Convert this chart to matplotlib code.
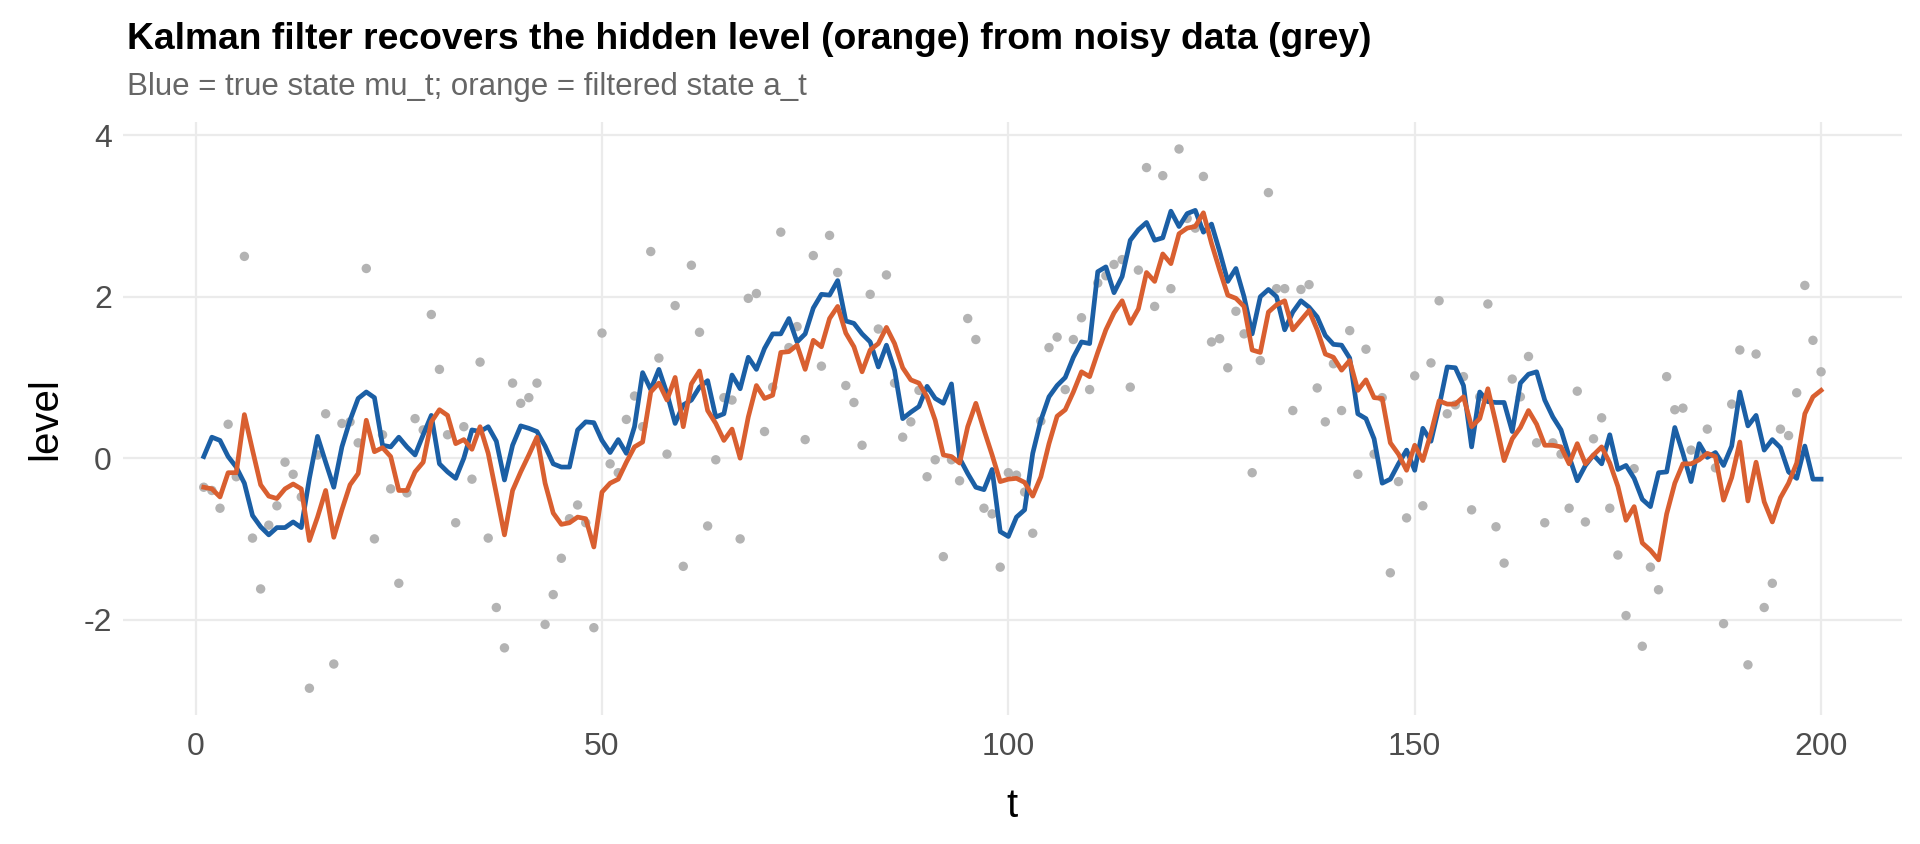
import matplotlib
matplotlib.use("Agg")
import matplotlib.pyplot as plt
import numpy as np

plt.rcParams['font.family'] = ['Liberation Sans', 'DejaVu Sans']
plt.rcParams['axes.unicode_minus'] = False

# time index
t = np.arange(1, 201)

# noisy observations y_t (grey points)
obs = [
    -0.36, -0.40, -0.62, 0.42, -0.23, 2.50, -0.99, -1.62, -0.83, -0.59,
    -0.05, -0.20, -0.48, -2.85, 0.04, 0.55, -2.55, 0.43, 0.45, 0.19,
    2.35, -1.00, 0.29, -0.38, -1.55, -0.43, 0.49, 0.35, 1.78, 1.10,
    0.29, -0.80, 0.39, -0.26, 1.19, -0.99, -1.85, -2.35, 0.93, 0.68,
    0.75, 0.93, -2.06, -1.69, -1.24, -0.75, -0.58, -0.80, -2.10, 1.55,
    -0.07, -0.18, 0.48, 0.77, 0.39, 2.56, 1.24, 0.05, 1.89, -1.34,
    2.39, 1.56, -0.84, -0.02, 0.75, 0.72, -1.00, 1.98, 2.04, 0.33,
    0.88, 2.80, 1.37, 1.63, 0.23, 2.51, 1.14, 2.76, 2.30, 0.90,
    0.69, 0.16, 2.03, 1.60, 2.27, 0.93, 0.26, 0.45, 0.84, -0.23,
    -0.02, -1.22, -0.02, -0.28, 1.73, 1.47, -0.62, -0.69, -1.35, -0.18,
    -0.21, -0.42, -0.93, 0.46, 1.37, 1.50, 0.85, 1.47, 1.74, 0.85,
    2.17, 2.26, 2.40, 2.46, 0.88, 2.33, 3.60, 1.88, 3.50, 2.10,
    3.83, 2.97, 2.85, 3.49, 1.44, 1.48, 1.12, 1.82, 1.54, -0.18,
    1.21, 3.29, 2.10, 2.10, 0.59, 2.09, 2.15, 0.87, 0.45, 1.17,
    0.59, 1.58, -0.20, 1.35, 0.05, 0.75, -1.42, -0.29, -0.74, 1.02,
    -0.59, 1.18, 1.95, 0.55, 0.66, 1.01, -0.64, 0.76, 1.91, -0.85,
    -1.30, 0.98, 0.76, 1.26, 0.19, -0.80, 0.19, 0.05, -0.62, 0.83,
    -0.79, 0.24, 0.50, -0.62, -1.20, -1.95, -0.13, -2.33, -1.35, -1.63,
    1.01, 0.60, 0.62, 0.10, 0.05, 0.36, -0.12, -2.05, 0.67, 1.34,
    -2.56, 1.29, -1.85, -1.55, 0.36, 0.28, 0.81, 2.14, 1.46, 1.07,
]

# true state mu_t (blue)
mu = [
    0.02, 0.26, 0.22, 0.02, -0.11, -0.31, -0.71, -0.85, -0.95, -0.86,
    -0.86, -0.79, -0.86, -0.25, 0.27, -0.05, -0.36, 0.14, 0.47, 0.74,
    0.82, 0.75, 0.16, 0.14, 0.26, 0.14, 0.04, 0.29, 0.53, -0.07,
    -0.17, -0.25, 0.00, 0.35, 0.33, 0.39, 0.21, -0.27, 0.16, 0.40,
    0.37, 0.33, 0.15, -0.07, -0.11, -0.11, 0.35, 0.45, 0.44, 0.22,
    0.07, 0.23, 0.06, 0.39, 1.06, 0.85, 1.10, 0.80, 0.43, 0.66,
    0.72, 0.88, 0.96, 0.51, 0.55, 1.03, 0.86, 1.25, 1.10, 1.36,
    1.54, 1.54, 1.73, 1.44, 1.54, 1.86, 2.03, 2.02, 2.20, 1.70,
    1.67, 1.54, 1.44, 1.13, 1.40, 1.09, 0.49, 0.57, 0.64, 0.89,
    0.74, 0.68, 0.92, 0.00, -0.19, -0.36, -0.39, -0.14, -0.91, -0.97,
    -0.73, -0.64, 0.06, 0.47, 0.76, 0.90, 1.00, 1.25, 1.44, 1.42,
    2.31, 2.37, 2.05, 2.25, 2.70, 2.83, 2.92, 2.70, 2.73, 3.06,
    2.87, 3.03, 3.07, 2.80, 2.90, 2.56, 2.19, 2.35, 2.00, 1.54,
    2.00, 2.09, 2.00, 1.59, 1.81, 1.95, 1.87, 1.75, 1.52, 1.41,
    1.40, 1.24, 0.55, 0.49, 0.24, -0.31, -0.26, -0.07, 0.10, -0.15,
    0.37, 0.21, 0.64, 1.13, 1.12, 0.90, 0.14, 0.82, 0.70, 0.69,
    0.69, 0.33, 0.93, 1.04, 1.07, 0.72, 0.51, 0.35, 0.02, -0.28,
    -0.09, 0.04, -0.07, 0.29, -0.14, -0.09, -0.25, -0.51, -0.60, -0.18,
    -0.17, 0.38, 0.06, -0.29, 0.18, 0.01, 0.07, -0.09, 0.15, 0.82,
    0.40, 0.53, 0.10, 0.23, 0.13, -0.17, -0.25, 0.15, -0.26, -0.26,
]

# filtered state a_t (orange)
a_filt = [
    -0.36, -0.38, -0.48, -0.18, -0.18, 0.54, 0.10, -0.33, -0.47, -0.50,
    -0.38, -0.32, -0.38, -1.02, -0.73, -0.40, -0.98, -0.64, -0.33, -0.19,
    0.47, 0.08, 0.13, 0.02, -0.40, -0.40, -0.17, -0.05, 0.45, 0.60,
    0.53, 0.18, 0.23, 0.11, 0.39, 0.06, -0.44, -0.95, -0.40, -0.17,
    0.04, 0.26, -0.31, -0.68, -0.82, -0.80, -0.73, -0.75, -1.10, -0.42,
    -0.31, -0.26, -0.05, 0.14, 0.20, 0.82, 0.93, 0.72, 1.00, 0.39,
    0.92, 1.08, 0.59, 0.43, 0.22, 0.36, 0.00, 0.51, 0.90, 0.74,
    0.78, 1.31, 1.32, 1.40, 1.10, 1.46, 1.38, 1.73, 1.88, 1.55,
    1.38, 1.07, 1.34, 1.42, 1.62, 1.42, 1.12, 0.97, 0.93, 0.76,
    0.47, 0.04, 0.02, -0.06, 0.39, 0.68, 0.35, 0.04, -0.29, -0.26,
    -0.25, -0.30, -0.47, -0.23, 0.18, 0.52, 0.60, 0.82, 1.07, 1.01,
    1.31, 1.59, 1.80, 1.95, 1.67, 1.85, 2.30, 2.19, 2.53, 2.41,
    2.78, 2.85, 2.87, 3.04, 2.66, 2.33, 2.02, 1.98, 1.88, 1.34,
    1.31, 1.81, 1.90, 1.95, 1.59, 1.71, 1.83, 1.59, 1.29, 1.25,
    1.09, 1.21, 0.84, 0.97, 0.75, 0.74, 0.19, 0.05, -0.15, 0.16,
    -0.03, 0.31, 0.71, 0.67, 0.67, 0.76, 0.39, 0.49, 0.86, 0.43,
    -0.03, 0.24, 0.38, 0.59, 0.42, 0.16, 0.16, 0.14, -0.07, 0.18,
    -0.07, 0.04, 0.14, -0.06, -0.35, -0.77, -0.60, -1.05, -1.14, -1.26,
    -0.69, -0.31, -0.07, -0.07, -0.02, 0.06, 0.02, -0.52, -0.24, 0.20,
    -0.53, -0.05, -0.54, -0.79, -0.49, -0.31, -0.06, 0.55, 0.76, 0.84,
]

fig = plt.figure(figsize=(19.2, 8.44), dpi=100)
ax = fig.add_axes([0.064, 0.153, 0.9266, 0.702])

ax.scatter(t, obs, s=46, color='#b3b3b3', edgecolors='none', zorder=2)
ax.plot(t, mu, color='#1b5fa5', lw=3.4, zorder=3)
ax.plot(t, a_filt, color='#d95f30', lw=3.4, zorder=4)

ax.set_xlim(-8.95, 209.95)
ax.set_ylim(-3.18, 4.16)
ax.set_xticks([0, 50, 100, 150, 200])
ax.set_yticks([-2, 0, 2, 4])
ax.grid(True, color='#ebebeb', lw=1.6)
ax.set_axisbelow(True)
for s in ax.spines.values():
    s.set_visible(False)
ax.tick_params(length=0, labelsize=23, labelcolor='#4d4d4d', pad=8)
ax.tick_params(axis='x', pad=12)

ax.set_xlabel('t', fontsize=29, labelpad=18)
ax.set_ylabel('level', fontsize=29, labelpad=14)

fig.text(0.066, 0.953, 'Kalman filter recovers the hidden level (orange) from noisy data (grey)',
         fontsize=26.8, fontweight='bold', va='center', ha='left')
fig.text(0.066, 0.897, 'Blue = true state mu_t; orange = filtered state a_t',
         fontsize=22.5, color='#666666', va='center', ha='left')

fig.savefig('out.png', dpi=100)
